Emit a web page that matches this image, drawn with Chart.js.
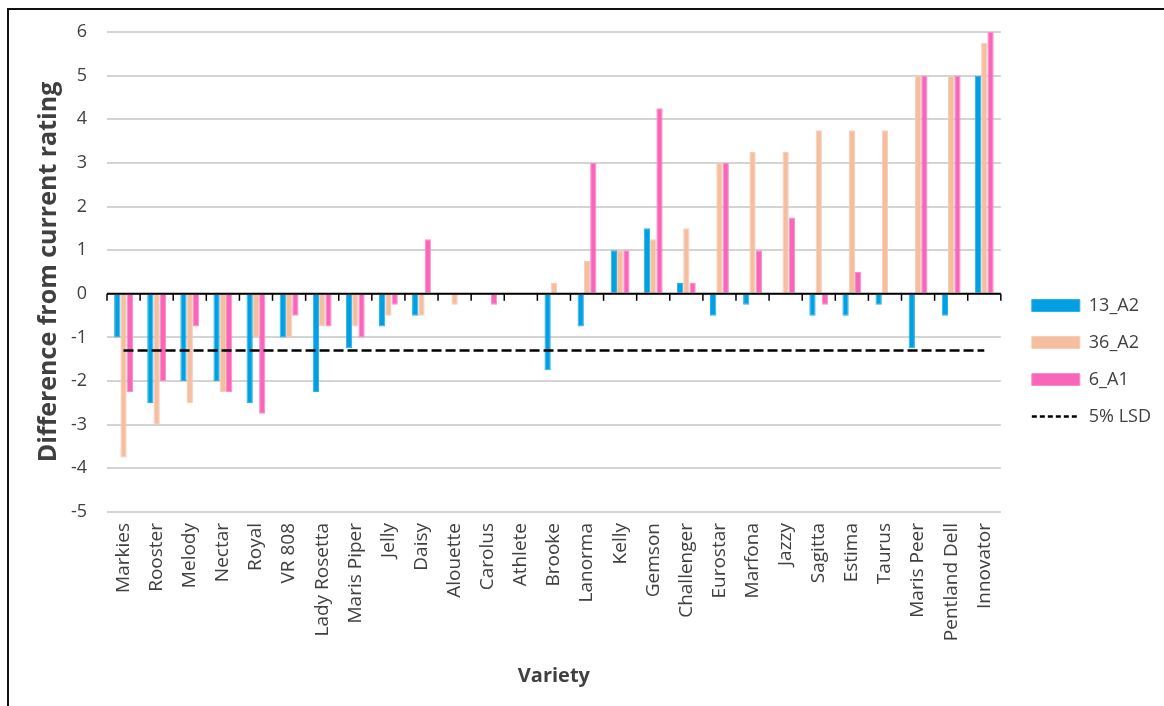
<!DOCTYPE html>
<html>
<head>
<meta charset="utf-8">
<script src="https://cdn.jsdelivr.net/npm/chart.js@4.4.1/dist/chart.umd.min.js"></script>
<style>
  html, body { margin: 0; padding: 0; background: #fff; }
  #wrap { position: relative; width: 1164px; height: 706px; overflow: hidden; }
  #frame { position: absolute; left: 7px; top: 8px; right: 0; bottom: 0;
           border-top: 2.5px solid #111; border-left: 2px solid #111; pointer-events: none; }
</style>
</head>
<body>
<div id="wrap">
  <canvas id="c" width="1164" height="706"></canvas>
  <div id="frame"></div>
</div>
<script>
const categories = ["Markies","Rooster","Melody","Nectar","Royal","VR 808","Lady Rosetta","Maris Piper","Jelly","Daisy","Alouette","Carolus","Athlete","Brooke","Lanorma","Kelly","Gemson","Challenger","Eurostar","Marfona","Jazzy","Sagitta","Estima","Taurus","Maris Peer","Pentland Dell","Innovator"];
const series13A2 = [-1,-2.5,-2,-2,-2.5,-1,-2.25,-1.25,-0.75,-0.5,0,0,0,-1.75,-0.75,1,1.5,0.25,-0.5,-0.25,0,-0.5,-0.5,-0.25,-1.25,-0.5,5];
const series36A2 = [-3.75,-3,-2.5,-2.25,-1,-1,-0.75,-0.75,-0.5,-0.5,-0.25,0,0,0.25,0.75,1,1.25,1.5,3,3.25,3.25,3.75,3.75,3.75,5,5,5.75];
const series6A1 = [-2.25,-2,-0.75,-2.25,-2.75,-0.5,-0.75,-1,-0.25,1.25,0,-0.25,0,0,3,1,4.25,0.25,3,1,1.75,-0.25,0.5,0,5,5,6];
const lsd5 = [-1.3,-1.3,-1.3,-1.3,-1.3,-1.3,-1.3,-1.3,-1.3,-1.3,-1.3,-1.3,-1.3,-1.3,-1.3,-1.3,-1.3,-1.3,-1.3,-1.3,-1.3,-1.3,-1.3,-1.3,-1.3,-1.3,-1.3];
const seriesNames = ["13_A2","36_A2","6_A1","5% LSD"];
const yMin = -5, yMax = 6, yStep = 1;

const FONT = "'Open Sans', 'Noto Sans', sans-serif";
const TXT = '#404040';

const zeroAxis = {
  id: 'zeroAxis',
  afterDatasetsDraw(chart) {
    const {ctx, chartArea, scales} = chart;
    const x = scales.x, y = scales.y;
    const y0 = y.getPixelForValue(0);
    ctx.save();
    ctx.strokeStyle = '#000';
    ctx.lineWidth = 2;
    ctx.beginPath();
    ctx.moveTo(chartArea.left, y0);
    ctx.lineTo(chartArea.right, y0);
    ctx.stroke();
    ctx.lineWidth = 1.5;
    const n = categories.length;
    for (let i = 0; i <= n; i++) {
      let px;
      if (i === 0) px = x.getPixelForValue(0) - (x.getPixelForValue(1) - x.getPixelForValue(0)) / 2;
      else if (i === n) px = x.getPixelForValue(n - 1) + (x.getPixelForValue(n - 1) - x.getPixelForValue(n - 2)) / 2;
      else px = (x.getPixelForValue(i - 1) + x.getPixelForValue(i)) / 2;
      ctx.beginPath();
      ctx.moveTo(px, y0);
      ctx.lineTo(px, y0 + 7);
      ctx.stroke();
    }
    ctx.restore();
  }
};

new Chart(document.getElementById('c'), {
  type: 'bar',
  data: {
    labels: categories,
    datasets: [
      { label: seriesNames[0], data: series13A2, backgroundColor: '#00A0E2', borderColor: '#2DB0E8', borderWidth: 1, categoryPercentage: 0.57, barPercentage: 1.0, order: 2 },
      { label: seriesNames[1], data: series36A2, backgroundColor: '#F5BE9F', borderColor: '#F8CDB5', borderWidth: 1, categoryPercentage: 0.57, barPercentage: 1.0, order: 2 },
      { label: seriesNames[2], data: series6A1, backgroundColor: '#F966B9', borderColor: '#FB8CCB', borderWidth: 1, categoryPercentage: 0.57, barPercentage: 1.0, order: 2 },
      { type: 'line', label: seriesNames[3], data: lsd5, borderColor: '#000', borderWidth: 2.5, borderDash: [10, 4], pointRadius: 0, fill: false, order: 1 }
    ]
  },
  options: {
    responsive: false,
    animation: false,
    layout: { padding: { left: 10, top: 32, right: 3, bottom: 16 } },
    plugins: {
      tooltip: { enabled: false },
      legend: {
        position: 'right',
        labels: {
          usePointStyle: true,
          pointStyleWidth: 48,
          boxHeight: 12,
          padding: 19,
          color: TXT,
          font: { family: FONT, size: 18 },
          sort: (a, b) => a.datasetIndex - b.datasetIndex,
          generateLabels(chart) {
            const items = Chart.defaults.plugins.legend.labels.generateLabels(chart);
            items.forEach((it) => {
              if (it.datasetIndex < 3) { it.pointStyle = 'rect'; it.lineWidth = 1; }
              else { it.pointStyle = 'line'; it.lineWidth = 2.5; it.lineDash = [5, 3]; it.strokeStyle = '#000'; }
            });
            return items;
          }
        }
      }
    },
    scales: {
      x: {
        grid: { display: false, drawTicks: false },
        border: { display: false },
        ticks: { autoSkip: false, maxRotation: 90, minRotation: 90, padding: 11, color: TXT, font: { family: FONT, size: 19 } },
        title: { display: true, text: 'Variety', color: TXT, font: { family: FONT, size: 20, weight: 'bold' }, padding: { top: 0, bottom: 2 } },
        afterFit(s) { s.height = 178; }
      },
      y: {
        min: yMin, max: yMax,
        grid: { color: '#d4d4d4', lineWidth: 2, drawTicks: false },
        border: { display: false },
        ticks: { stepSize: yStep, padding: 20, color: TXT, font: { family: FONT, size: 18 } },
        title: { display: true, text: 'Difference from current rating', color: TXT, font: { family: FONT, size: 25, weight: 'bold' }, padding: { top: 24, bottom: 0 } },
        afterFit(s) { s.width = 97; }
      },
      yR: {
        type: 'linear', position: 'right', display: true, min: 0, max: 1,
        grid: { display: false, drawTicks: false },
        border: { display: false },
        ticks: { display: false },
        afterFit(s) { s.width = 12; }
      }
    }
  },
  plugins: [zeroAxis]
});
</script>
</body>
</html>
